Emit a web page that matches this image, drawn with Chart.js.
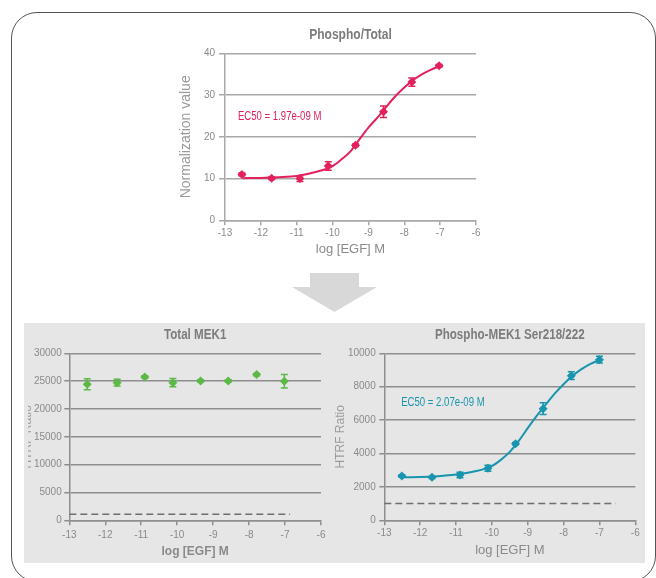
<!DOCTYPE html>
<html>
<head>
<meta charset="utf-8">
<script src="https://cdn.jsdelivr.net/npm/chart.js@4.4.1/dist/chart.umd.min.js"></script>
<style>
  body { margin: 0; width: 656px; height: 578px; background: #fff; position: relative; overflow: hidden; }
  .frame { position: absolute; left: 11px; top: 12px; width: 645px; height: 570px; box-sizing: border-box;
           border: 1.5px solid #555; border-radius: 26px; }
  .panel { position: absolute; left: 24px; top: 323px; width: 621px; height: 240px; background: #e6e6e7; }
  .arrow-body { position: absolute; left: 310px; top: 273px; width: 49px; height: 15px; background: #d8d8d8; }
  .arrow-head { position: absolute; left: 292px; top: 287px; width: 85px; height: 25px; background: #d8d8d8;
                clip-path: polygon(0 0, 100% 0, 50% 100%); }
  .clip { position: absolute; overflow: hidden; }
  canvas { position: absolute; }
</style>
</head>
<body>
<div class="frame"></div>
<div class="arrow-body"></div>
<div class="arrow-head"></div>
<div class="panel"></div>

<canvas id="chart-top" width="310" height="240" style="left:176px; top:20px;"></canvas>
<!-- left chart sits in a clipping box: only the tail of its y title shows, as in the figure -->
<div class="clip" style="left:28px; top:322px; width:304px; height:240px;">
  <canvas id="chart-left" width="317" height="240" style="left:-14px; top:0px;"></canvas>
</div>
<canvas id="chart-right" width="313" height="240" style="left:332px; top:322px;"></canvas>

<script>
// Shared x axis: log of EGF concentration.
const xTicks = [-13, -12, -11, -10, -9, -8, -7, -6];
const fitX = [-12.5, -12, -11.5, -11, -10.5, -10, -9.75, -9.5, -9.25, -9, -8.75, -8.5, -8.25, -8, -7.75, -7.5, -7.25, -7];

// Phospho/Total (top chart)
const doseTop = [-12.53, -11.70, -10.91, -10.12, -9.36, -8.58, -7.79, -7.03];
const valueTop = [11.0, 10.05, 10.0, 13.0, 18.0, 26.0, 33.1, 37.0];
const errorTop = [0.3, 0.3, 0.7, 1.0, 0.3, 1.4, 1.0, 0.3];
const fitYTop = [10.1, 10.15, 10.3, 10.6, 11.5, 13.0, 14.6, 16.5, 19.4, 22.2, 24.6, 27.2, 29.7, 31.8, 33.6, 35.0, 36.1, 36.9];
const yTicksTop = [0, 10, 20, 30, 40];

// Total MEK1 (bottom left)
const doseLeft = [-12.50, -11.67, -10.90, -10.12, -9.35, -8.58, -7.79, -7.02];
const valueLeft = [24430, 24730, 25750, 24730, 25030, 25030, 26170, 24970];
const errorLeft = [1000, 600, 200, 750, 200, 200, 200, 1200];
const blankXLeft = [-13, -6.86];
const blankYLeft = [1100, 1100];
const yTicksLeft = [0, 5000, 10000, 15000, 20000, 25000, 30000];

// Phospho-MEK1 Ser218/222 (bottom right)
const doseRight = [-12.51, -11.67, -10.89, -10.11, -9.34, -8.57, -7.785, -7.0];
const valueRight = [2655, 2575, 2715, 3114, 4590, 6687, 8663, 9621];
const errorRight = [70, 70, 160, 180, 70, 350, 230, 200];
const fitYRight = [2575, 2590, 2640, 2740, 2920, 3250, 3620, 4100, 4750, 5520, 6250, 6920, 7580, 8150, 8650, 9050, 9370, 9600];
const blankXRight = [-13, -6.55];
const blankYRight = [1000, 1000];
const yTicksRight = [0, 2000, 4000, 6000, 8000, 10000];

// EC50 annotations, placed in data units
const ec50Top = { text: 'EC50 = 1.97e-09 M', x: -12.64, y: 24.7 };
const ec50Right = { text: 'EC50 = 2.07e-09 M', x: -12.53, y: 7020 };

const SANS = "'Liberation Sans', Arial, sans-serif";
const TICK_COLOR = '#8a8a8a';

function toPoints(xs, ys) {
    return xs.map((x, i) => ({ x: x, y: ys[i] }));
}

// The figure uses a condensed face; squeeze regular text horizontally to get close.
function condensedText(ctx, text, x, y, align, squeeze) {
    ctx.save();
    ctx.translate(x, y);
    ctx.scale(squeeze, 1);
    ctx.textAlign = align;
    ctx.fillText(text, 0, 0);
    ctx.restore();
}

// Draws the vertical error bars with small caps.
const errorBarPlugin = {
    id: 'errorBars',
    afterDatasetsDraw(chart) {
        const { ctx, scales: { x, y } } = chart;
        chart.data.datasets.forEach(ds => {
            if (!ds.errors) return;
            ctx.save();
            ctx.strokeStyle = ds.backgroundColor;
            ctx.lineWidth = 1.5;
            ds.data.forEach((pt, j) => {
                const px = x.getPixelForValue(pt.x);
                const top = y.getPixelForValue(pt.y + ds.errors[j]);
                const bot = y.getPixelForValue(pt.y - ds.errors[j]);
                ctx.beginPath();
                ctx.moveTo(px, top); ctx.lineTo(px, bot);
                ctx.moveTo(px - 3.5, top); ctx.lineTo(px + 3.5, top);
                ctx.moveTo(px - 3.5, bot); ctx.lineTo(px + 3.5, bot);
                ctx.stroke();
            });
            ctx.restore();
        });
    }
};

// Panel title centred over the plot area, plus the optional EC50 note.
const labelPlugin = {
    id: 'panelLabels',
    afterDraw(chart, args, opts) {
        const { ctx, chartArea, scales: { x, y } } = chart;
        ctx.save();
        ctx.textBaseline = 'middle';
        ctx.fillStyle = '#7c7c7c';
        ctx.font = 'bold 14px ' + SANS;
        condensedText(ctx, opts.title, (chartArea.left + chartArea.right) / 2, chartArea.top - 18, 'center', opts.squeeze);
        if (opts.ec50) {
            ctx.fillStyle = opts.color;
            ctx.font = '12px ' + SANS;
            condensedText(ctx, opts.ec50.text, x.getPixelForValue(opts.ec50.x), y.getPixelForValue(opts.ec50.y), 'left', 0.8);
        }
        ctx.restore();
    }
};

function makeChart(id, o) {
    const datasets = [];
    if (o.fitY) {
        datasets.push({
            type: 'line', data: toPoints(fitX, o.fitY), borderColor: o.color, borderWidth: 2,
            pointRadius: 0, cubicInterpolationMode: 'monotone', fill: false
        });
    }
    if (o.blankX) {
        datasets.push({
            type: 'line', data: toPoints(o.blankX, o.blankY), borderColor: '#6e6e6e', borderWidth: 1.5,
            borderDash: [7, 4], pointRadius: 0, fill: false
        });
    }
    datasets.push({
        type: 'scatter', data: toPoints(o.dose, o.values), errors: o.errors,
        pointStyle: 'rectRot', pointRadius: 4.5, backgroundColor: o.color, borderWidth: 0
    });

    return new Chart(document.getElementById(id), {
        type: 'scatter',
        data: { datasets: datasets },
        options: {
            responsive: false,
            animation: false,
            devicePixelRatio: 1,
            layout: { padding: { left: 0, right: o.padRight, top: o.padTop, bottom: 0 } },
            plugins: {
                legend: { display: false },
                tooltip: { enabled: false },
                panelLabels: { title: o.title, squeeze: o.squeeze, ec50: o.ec50, color: o.color }
            },
            scales: {
                x: {
                    type: 'linear', min: -13, max: -6,
                    afterBuildTicks: s => { s.ticks = xTicks.map(v => ({ value: v })); },
                    afterFit: s => { s.height = o.xHeight; s.paddingLeft = 0; s.paddingRight = 0; },
                    grid: { drawOnChartArea: false, drawTicks: true, tickLength: 5, tickColor: o.gridColor, lineWidth: 1.5 },
                    border: { display: true, color: o.gridColor, width: 1.5 },
                    ticks: { color: TICK_COLOR, font: { size: 10, family: SANS }, padding: o.xTickPad, maxRotation: 0, autoSkip: false },
                    title: { display: true, text: 'log [EGF] M', color: '#8a8a8a', font: o.xTitleFont,
                             padding: { top: 0, bottom: o.xTitlePad } }
                },
                y: {
                    type: 'linear', min: o.yTicks[0], max: o.yTicks[o.yTicks.length - 1],
                    afterBuildTicks: s => { s.ticks = o.yTicks.map(v => ({ value: v })); },
                    afterFit: s => { s.width = o.yWidth; s.paddingTop = 0; s.paddingBottom = 0; },
                    grid: { drawTicks: true, tickLength: o.yTickLen, color: o.gridColor, tickColor: o.gridColor, lineWidth: 1.5 },
                    border: { display: true, color: o.gridColor, width: 1.5 },
                    ticks: { color: TICK_COLOR, font: { size: 10, family: SANS }, padding: o.yTickPad,
                             callback: v => String(v) },
                    title: { display: true, text: o.yTitle, color: '#9a9a9a', font: { size: o.yTitleSize, family: SANS },
                             padding: { top: o.yTitlePad, bottom: 0 } }
                }
            }
        },
        plugins: [errorBarPlugin, labelPlugin]
    });
}

makeChart('chart-top', {
    title: 'Phospho/Total', squeeze: 0.86, yTitle: 'Normalization value', yTitleSize: 14, color: '#e2215c',
    dose: doseTop, values: valueTop, errors: errorTop, fitY: fitYTop, yTicks: yTicksTop, ec50: ec50Top,
    padTop: 33.3, padRight: 10, yWidth: 49, xHeight: 39.7, yTickLen: 6, yTickPad: 4, yTitlePad: 1.6,
    xTickPad: 2, xTitlePad: 2.3, xTitleFont: { size: 13, family: SANS }, gridColor: '#a8a8a8'
});

makeChart('chart-left', {
    title: 'Total MEK1', squeeze: 0.83, yTitle: 'HTRF Ratio', yTitleSize: 12, color: '#5cb946',
    dose: doseLeft, values: valueLeft, errors: errorLeft, yTicks: yTicksLeft,
    blankX: blankXLeft, blankY: blankYLeft,
    padTop: 31.3, padRight: 10, yWidth: 55.3, xHeight: 41.7, yTickLen: 5, yTickPad: 2.6, yTitlePad: 6.1,
    xTickPad: 4, xTitlePad: 3, xTitleFont: { size: 12, weight: 'bold', family: SANS }, gridColor: '#8e8e8e'
});

makeChart('chart-right', {
    title: 'Phospho-MEK1 Ser218/222', squeeze: 0.83, yTitle: 'HTRF Ratio', yTitleSize: 12, color: '#1895ae',
    dose: doseRight, values: valueRight, errors: errorRight, fitY: fitYRight, yTicks: yTicksRight, ec50: ec50Right,
    blankX: blankXRight, blankY: blankYRight,
    padTop: 31.3, padRight: 9.7, yWidth: 52.3, xHeight: 41.7, yTickLen: 5, yTickPad: 3.6, yTitlePad: 1.8,
    xTickPad: 1.5, xTitlePad: 3.6, xTitleFont: { size: 13, family: SANS }, gridColor: '#8e8e8e'
});
</script>
</body>
</html>
